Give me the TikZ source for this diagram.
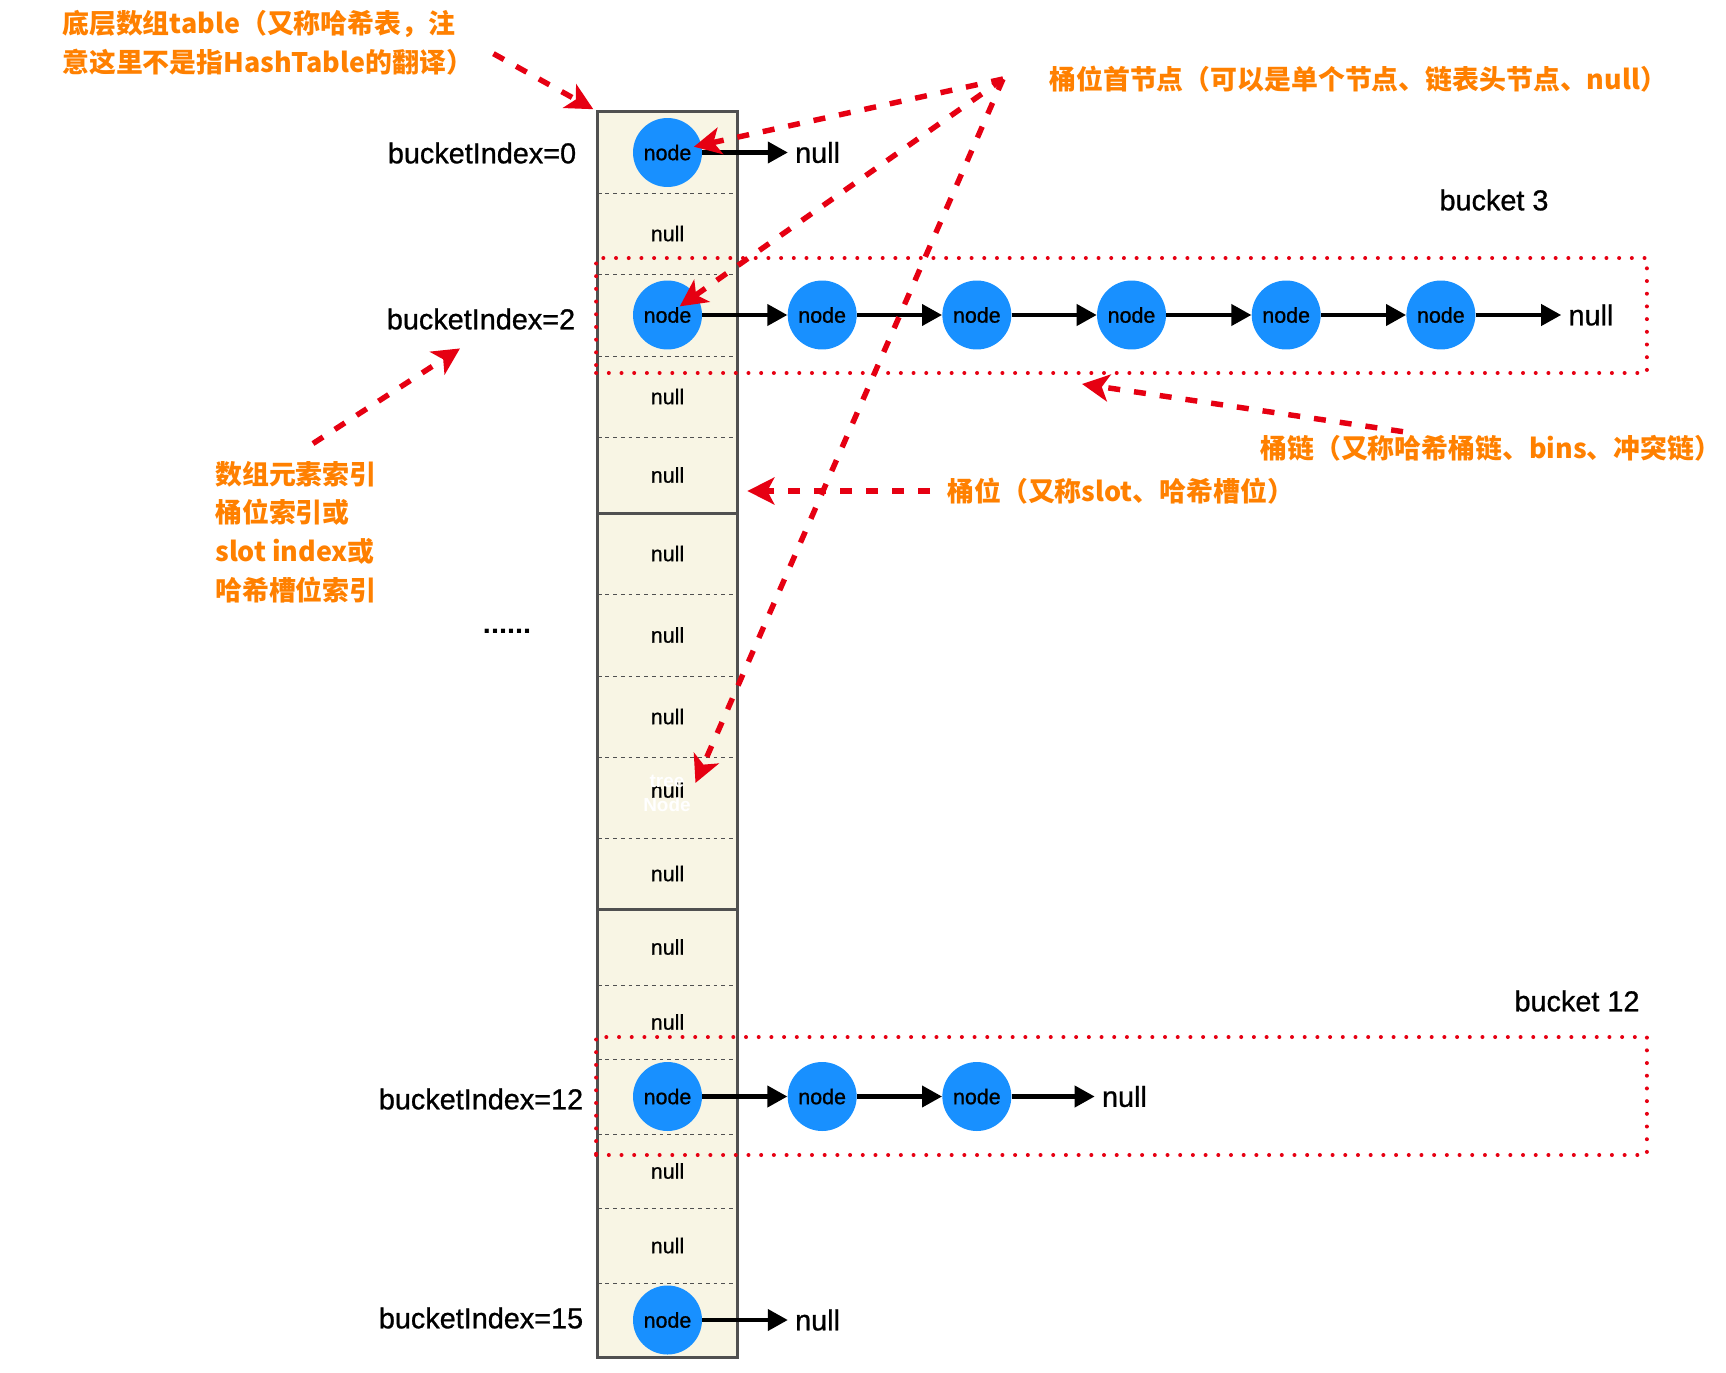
\documentclass[tikz,border=0pt]{standalone}
\usepackage{fontspec}
\setsansfont{Liberation Sans}
\newfontfamily\medsans{Liberation Sans}[FakeBold=0.9]
\newfontfamily\cjk{Noto Sans CJK SC}
\usetikzlibrary{arrows.meta,positioning}
\definecolor{hblue}{RGB}{24,144,255}
\definecolor{hred}{RGB}{230,0,18}
\definecolor{horange}{RGB}{255,128,0}
\definecolor{hcream}{RGB}{248,245,228}
\definecolor{hgray}{RGB}{80,80,80}
\tikzset{
  linkarr/.style={-{Triangle[length=0.4cm,width=0.42cm]}, line width=2.3pt, draw=black},
  notearr/.style={-{Stealth[length=0.54cm,width=0.54cm,inset=0.14cm]}, line width=3.1pt, draw=hred, dash pattern=on 0.24cm off 0.28cm},
  hnode/.style={circle, fill=hblue, minimum size=1.38cm, inner sep=0pt, font=\medsans\fontsize{12.2}{14}\selectfont},
  notetext/.style={text=horange, font={\cjk\bfseries\fontsize{15.3}{22.1}\selectfont}, inner sep=0pt, align=left},
  bucketbox/.style={draw=hred, line width=0.08cm, dash pattern=on 0pt off 0.254cm, line cap=round, inner sep=0pt},
}
\begin{document}
\begin{tikzpicture}[
  x=0.02cm, y=-0.02cm,
  node distance=1.7cm,
  cell/.style={rectangle, fill=hcream, minimum width=2.78cm, inner sep=0pt, font=\medsans\fontsize{12.2}{14}\selectfont},
  rowsep/.style={draw=hgray, line width=0.75pt, dash pattern=on 2.2pt off 2.2pt},
  tableline/.style={draw=hgray, line width=1.4pt},
  nulltail/.style={font=\medsans\fontsize{16.4}{19}\selectfont, inner sep=0pt},
  idxlabel/.style={font=\medsans\fontsize{16.4}{19}\selectfont, inner sep=0pt},
]
  \useasboundingbox (0,0) rectangle (1726,1372);
  % table slots
  \foreach \i/\ya/\yb/\txt in {0/112/193/{}, 1/193/274/null, 2/274/356/{}, 3/356/437/null,
      4/437/513/null, 5/513/594/null, 6/594/676/null, 7/676/757/null, 8/757/838/{},
      9/838/909/null, 10/909/985/null, 11/985/1059/null, 12/1059/1134/{}, 13/1134/1208/null,
      14/1208/1283/null, 15/1283/1357/{}}{
    \pgfmathsetmacro\hh{(\yb-\ya)*0.02}
    \pgfmathsetmacro\yc{(\ya+\yb)/2}
    \node[cell, minimum height=\hh cm] (cell\i) at (667.5,\yc) {\txt};
  }
  \foreach \i in {0,1,2,3,5,6,7,8,10,11,12,13,14}
    \draw[rowsep] (cell\i.south west) -- (cell\i.south east);
  \foreach \i in {4,9}
    \draw[tableline] (cell\i.south west) -- (cell\i.south east);
  \draw[tableline] (cell0.north west) rectangle (cell15.south east);
  \node[font=\medsans\fontsize{12.2}{14}\selectfont, inner sep=0pt] (null8) at (667.5,790) {null};
  \node[font=\sffamily\bfseries\fontsize{10.8}{13.6}\selectfont, text=white, align=center, inner sep=0pt] (tn8) at (667,793) {tree\\Node};

  % bucket index labels
  \node[idxlabel] (idx0) at (482,153) {bucketIndex=0};
  \node[idxlabel] (idx2) at (481,319) {bucketIndex=2};
  \node[idxlabel] (idx12) at (481,1099) {bucketIndex=12};
  \node[idxlabel] (idx15) at (481,1318) {bucketIndex=15};
  \node[idxlabel, font=\sffamily\bfseries\fontsize{16.4}{19}\selectfont] (dots) at (507,631) {......};

  % bucket 0
  \node[hnode] (b0) at (cell0) {node};
  \node[nulltail, right=1.85cm of b0] (n0) {null};
  \draw[linkarr, shorten >=4pt] (b0) -- (n0);

  % bucket 2
  \node[hnode] (b2) at (cell2) {node};
  \node[hnode, right=of b2] (b2a) {node};
  \node[hnode, right=of b2a] (b2b) {node};
  \node[hnode, right=of b2b] (b2c) {node};
  \node[hnode, right=of b2c] (b2d) {node};
  \node[hnode, right=of b2d] (b2e) {node};
  \node[nulltail, right=1.85cm of b2e] (n2) {null};
  \foreach \a/\b in {b2/b2a,b2a/b2b,b2b/b2c,b2c/b2d,b2d/b2e}
    \draw[linkarr] (\a) -- (\b);
  \draw[linkarr, shorten >=4pt] (b2e) -- (n2);

  % bucket 12
  \node[hnode] (b12) at (cell12) {node};
  \node[hnode, right=of b12] (b12a) {node};
  \node[hnode, right=of b12a] (b12b) {node};
  \node[nulltail, right=1.8cm of b12b] (n12) {null};
  \foreach \a/\b in {b12/b12a,b12a/b12b}
    \draw[linkarr] (\a) -- (\b);
  \draw[linkarr, shorten >=4pt] (b12b) -- (n12);

  % bucket 15
  \node[hnode] (b15) at (cell15) {node};
  \node[nulltail, right=1.85cm of b15] (n15) {null};
  \draw[linkarr, shorten >=4pt] (b15) -- (n15);

  % bucket frames
  \node[bucketbox, minimum width=21.02cm, minimum height=2.3cm] (bk3) at (1121.5,315.5) {};
  \node[bucketbox, minimum width=21.02cm, minimum height=2.36cm] (bk12) at (1121.5,1096) {};
  \node[idxlabel] (lbk3) at (1494,200) {bucket 3};
  \node[idxlabel] (lbk12) at (1577,1001) {bucket 12};

  % notes
  \node[notetext, anchor=west] (lblTable) at (62,42.5) {底层数组table（又称哈希表，注\\意这里不是指HashTable的翻译）};
  \node[notetext, anchor=west] (lblHead) at (1049,79) {桶位首节点（可以是单个节点、链表头节点、null）};
  \node[notetext, anchor=west] (lblChain) at (1260,448) {桶链（又称哈希桶链、bins、冲突链）};
  \node[notetext, anchor=west] (lblSlot) at (947,491) {桶位（又称slot、哈希槽位）};
  \node[notetext, anchor=west] (lblIdx) at (215,532) {数组元素索引\\桶位索引或\\slot index或\\哈希槽位索引};
  \coordinate[left=0.92cm of lblHead.west] (hsrc);

  \draw[notearr, shorten <=0.46cm, shorten >=0.1cm] (lblTable.east) -- (cell0.north west);
  \draw[notearr, shorten >=0.54cm] (hsrc) -- (b0.center);
  \draw[notearr, shorten >=0.3cm] (hsrc) -- (b2.center);
  \draw[notearr, shorten >=0.22cm] (hsrc) -- (tn8.east);
  \draw[notearr] ([xshift=2.86cm,yshift=0.06cm]lblChain.north west) -- ([xshift=-0.79cm,yshift=-0.18cm]bk3.south);
  \draw[notearr, shorten <=0.34cm, shorten >=0.2cm] (lblSlot.west) -- (lblSlot.west -| cell4.east);
  \draw[notearr] ([xshift=0.34cm,yshift=0.34cm]lblIdx.north) -- ([xshift=-0.42cm,yshift=-0.37cm]idx2.south);
\end{tikzpicture}
\end{document}
